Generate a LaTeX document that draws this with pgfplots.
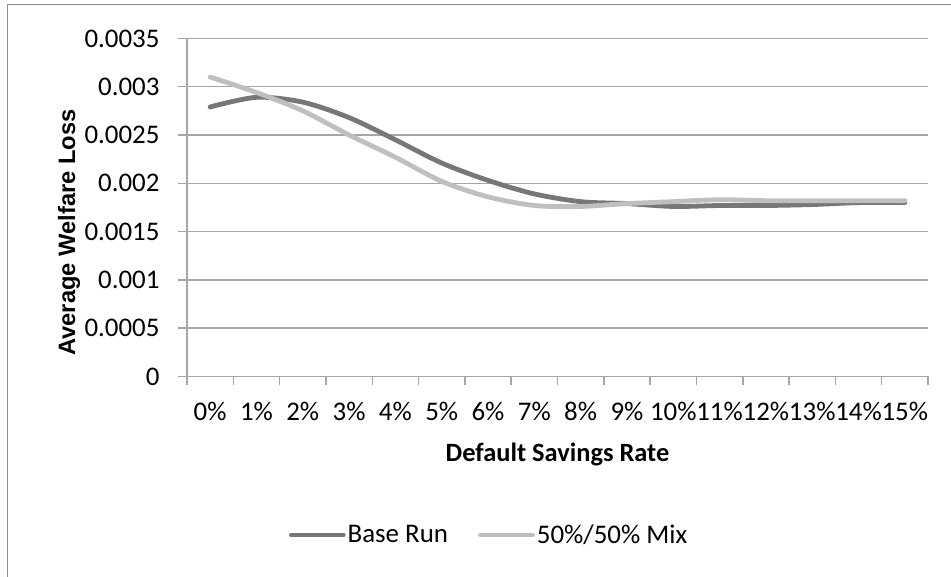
\documentclass[border=0pt]{standalone}
\usepackage{fontspec}
\setmainfont{Carlito}
\newfontfamily\arialfont{Liberation Sans}
\usepackage{pgfplots}
\pgfplotsset{compat=1.18}
\usepackage{pgfplotstable}
\definecolor{basecol}{HTML}{777777}
\definecolor{mixcol}{HTML}{BFBFBF}
\definecolor{gridcol}{HTML}{A6A6A6}
\definecolor{framecol}{HTML}{8C8C8C}
\pgfplotstableread{
x base mix
0 0.00279 0.00310
1 0.00289 0.00294
2 0.00284 0.00275
3 0.00268 0.00250
4 0.00245 0.00227
5 0.00221 0.00202
6 0.00203 0.00186
7 0.00189 0.00177
8 0.00181 0.00176
9 0.00179 0.00179
10 0.00176 0.00181
11 0.00177 0.00183
12 0.00177 0.00182
13 0.00178 0.00182
14 0.00180 0.00182
15 0.00180 0.00182
}\datatable
\begin{document}
\begin{tikzpicture}
\useasboundingbox (0bp,0bp) rectangle (951bp,577bp);
\draw[framecol, line width=1.3bp] (7.5bp,0bp) -- (7.5bp,572.5bp) -- (951bp,572.5bp);
\begin{axis}[
  at={(187bp,200.5bp)}, anchor=south west,
  scale only axis, width=741bp, height=338.1bp,
  xmin=-0.5, xmax=15.5, ymin=0, ymax=0.0035,
  axis x line*=bottom, axis y line*=left,
  axis line style={gridcol, line width=1.5bp, -},
  xtick={0,...,15},
  xticklabels={0\%,1\%,2\%,3\%,4\%,5\%,6\%,7\%,8\%,9\%,10\%,11\%,12\%,13\%,14\%,15\%},
  minor xtick={-0.5,0.5,...,15.5},
  ytick={0,0.0005,0.001,0.0015,0.002,0.0025,0.003,0.0035},
  yticklabels={0,0.0005,0.001,0.0015,0.002,0.0025,0.003,0.0035},
  tick align=outside,
  x tick style={draw=none},
  minor x tick style={draw=gridcol, line width=1.5bp},
  minor tick length=9bp,
  y tick style={draw=gridcol, line width=1.5bp},
  major tick length=9bp,
  ymajorgrids, major grid style={gridcol, line width=1.5bp},
  ticklabel style={font=\fontsize{27}{32}\selectfont, text=black},
  yticklabel style={xshift=-15bp},
  xticklabel style={yshift=-13bp},
  scaled y ticks=false,
  xlabel={Default Savings Rate},
  ylabel={\arialfont\bfseries Average Welfare Loss},
  xlabel style={font=\fontsize{26.5}{31}\selectfont\bfseries, at={(axis description cs:0.5,-0.25)}, anchor=base},
  ylabel style={font=\fontsize{23.8}{28}\selectfont, at={(axis description cs:-0.151,0.426)}, anchor=base},
  legend style={draw=none, fill=none, at={(axis description cs:0.4076,-0.469)}, anchor=center,
    font=\fontsize{27}{32}\selectfont, legend columns=2, inner sep=0pt,
    /tikz/every even column/.append style={column sep=28bp},
    /tikz/every odd column/.append style={column sep=0bp}},
  legend cell align=left,
  legend image code/.code={\draw[#1, line cap=round] (0bp,0bp) -- (52bp,0bp);},
]
\addplot[basecol, line width=4.8bp, smooth, line join=round, line cap=round] table[x=x,y=base]{\datatable};
\addlegendentry{Base Run}
\addplot[mixcol, line width=4.8bp, smooth, line join=round, line cap=round] table[x=x,y=mix]{\datatable};
\addlegendentry{50\%/50\% Mix}
\end{axis}
\end{tikzpicture}
\end{document}
